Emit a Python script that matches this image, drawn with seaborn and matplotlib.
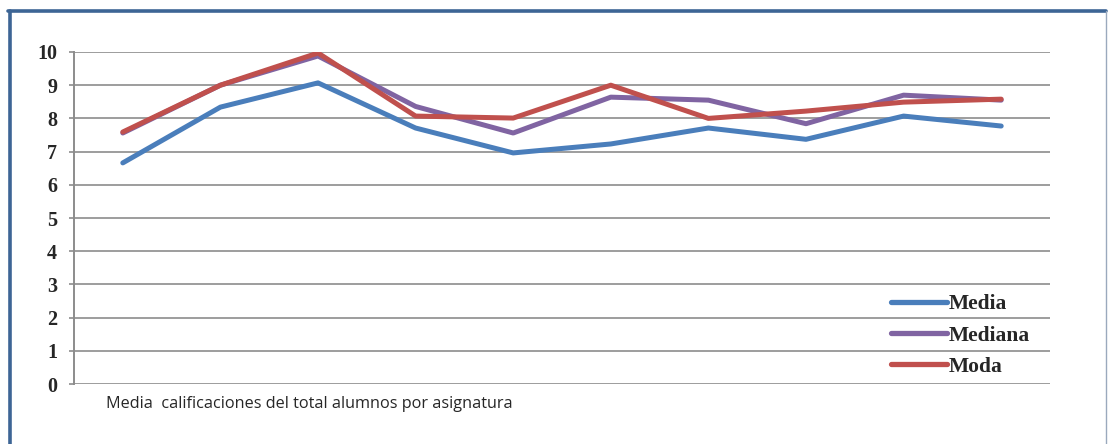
import pandas as pd
import matplotlib.pyplot as plt
import seaborn as sns
from matplotlib.lines import Line2D

# values (10 subjects)
asignaturas = list(range(1, 11))
media = [6.66, 8.34, 9.07, 7.71, 6.96, 7.23, 7.71, 7.37, 8.07, 7.77]
mediana = [7.56, 9.0, 9.88, 8.36, 7.56, 8.64, 8.55, 7.84, 8.70, 8.55]
moda = [7.59, 9.0, 9.97, 8.07, 8.01, 9.0, 8.0, 8.22, 8.49, 8.58]
series = ["Media", "Mediana", "Moda"]
colores = ["#4a7ebb", "#8064a2", "#c0504d"]
y_ticks = list(range(0, 11))

df = pd.DataFrame({
    "asignatura": asignaturas * 3,
    "valor": media + mediana + moda,
    "serie": [s for s in series for _ in asignaturas],
})

sns.set_style("white")
fig = plt.figure(figsize=(11.11, 4.44), dpi=100)
W, H = 1111, 444
ax = fig.add_axes([74 / W, 1 - 384 / H, 976 / W, 332 / H])

sns.lineplot(data=df, x="asignatura", y="valor", hue="serie", hue_order=series,
             palette=colores, lw=3.6, ax=ax, solid_capstyle="round")

ax.set_xlim(0.5, 10.5)
ax.set_ylim(0, 10)
ax.set_yticks(y_ticks)
ax.set_yticklabels([str(t) for t in y_ticks], fontfamily="Liberation Serif",
                   fontweight="bold", fontsize=14.5)
ax.set_xticks([])
ax.set_xlabel("")
ax.set_ylabel("")
ax.grid(axis="y", color="#8c8c8c", lw=1.2)
ax.set_axisbelow(True)
for s in ["top", "right", "bottom"]:
    ax.spines[s].set_visible(False)
ax.spines["left"].set_color("#8c8c8c")
ax.spines["left"].set_linewidth(1.4)
ax.tick_params(axis="y", left=True, length=3.6, width=1.2, color="#8c8c8c", pad=8.5)

leg = ax.legend(loc="upper left", bbox_to_anchor=(0.837, 0.27), frameon=False,
                handlelength=2.6, handletextpad=0.1, labelspacing=0.52,
                borderpad=0, borderaxespad=0,
                prop={"family": "Liberation Serif", "weight": "bold", "size": 15.5})
for h in leg.get_lines():
    h.set_linewidth(3.8)
    h.set_solid_capstyle("round")

fig.text(106 / W, 1 - 404 / H, "Media  calificaciones del total alumnos por asignatura",
         fontfamily="Open Sans", fontsize=11.7, va="center", ha="left")

# outer frame of the original document box
fig.add_artist(Line2D([8 / W, 1106 / W], [1 - 11 / H, 1 - 11 / H], color="#3d6595", lw=2.6))
fig.add_artist(Line2D([9.5 / W, 9.5 / W], [1 - 11 / H, 0], color="#3d6595", lw=2.6))
fig.add_artist(Line2D([1106 / W, 1106 / W], [1 - 11 / H, 0], color="#9aa9bd", lw=1.0))

fig.savefig("out.png", dpi=100)
